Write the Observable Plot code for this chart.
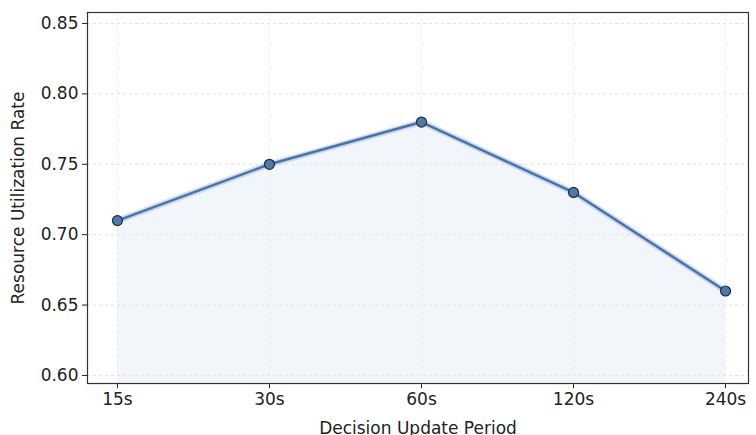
<!DOCTYPE html>
<html><head><meta charset="utf-8">
<script src="https://cdn.jsdelivr.net/npm/d3@7"></script>
<script src="https://cdn.jsdelivr.net/npm/@observablehq/plot@0.6"></script>
<style>body{margin:0;background:#fff;font-family:"DejaVu Sans",sans-serif;}</style>
</head><body><div id="chart"></div>
<script>
const periods = ["15s","30s","60s","120s","240s"];
const utilization = [0.71, 0.75, 0.78, 0.73, 0.66];
const yTicks = [0.60, 0.65, 0.70, 0.75, 0.80, 0.85];

const data = periods.map((p, i) => ({i, p, v: utilization[i]}));
const yMin = 0.5943, yMax = 0.8578;

const chart = Plot.plot({
  width: 756, height: 435,
  marginLeft: 87, marginRight: 8, marginTop: 12, marginBottom: 52,
  style: {fontFamily: "DejaVu Sans, sans-serif", fontSize: "17px", color: "#222", background: "#fff"},
  x: {type: "linear", domain: [-0.197, 4.151], ticks: d3.range(periods.length), tickFormat: i => periods[i], label: "Decision Update Period", labelArrow: "none", labelAnchor: "center", labelOffset: 50, tickSize: 5, tickPadding: 4},
  y: {domain: [yMin, yMax], ticks: yTicks, tickFormat: d3.format(".2f"), label: "Resource Utilization Rate", labelArrow: "none", labelAnchor: "center", labelOffset: 76, tickSize: 5, tickPadding: 4},
  marks: [
    Plot.gridX(d3.range(periods.length), {stroke: "#ddd", strokeOpacity: 0.5, strokeDasharray: "3,3"}),
    Plot.gridY(yTicks, {stroke: "#ccc", strokeOpacity: 0.6, strokeDasharray: "3,3"}),
    Plot.areaY(data, {x: "i", y1: yMin, y2: "v", fill: "#dfe8f3", fillOpacity: 0.4}),
    Plot.lineY(data, {x: "i", y: "v", stroke: "#9dbbe3", strokeWidth: 6, strokeOpacity: 0.5}),
    Plot.lineY(data, {x: "i", y: "v", stroke: "#4a72a8", strokeWidth: 2.5}),
    Plot.dot(data, {x: "i", y: "v", r: 5, fill: "#4f79a7", stroke: "#1e2d40", strokeWidth: 1.2}),
    Plot.frame({stroke: "#333", strokeWidth: 1.2})
  ]
});
document.getElementById("chart").appendChild(chart);
</script></body></html>
